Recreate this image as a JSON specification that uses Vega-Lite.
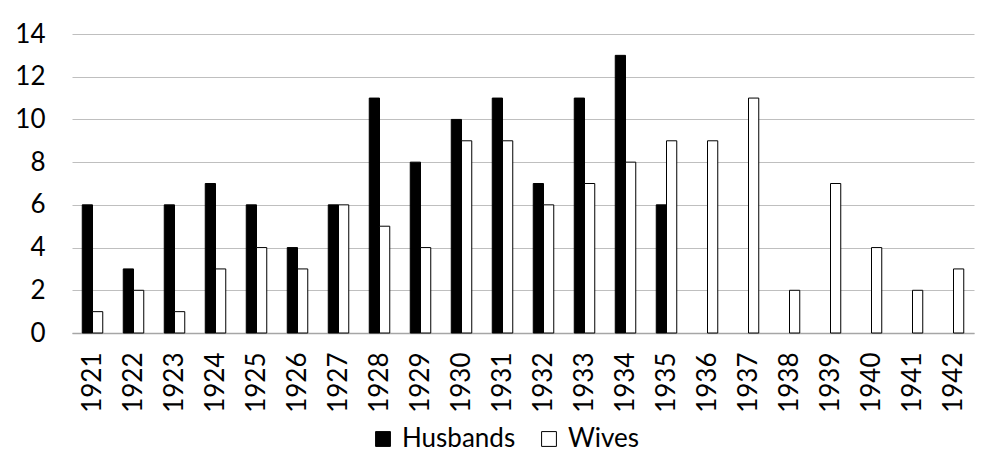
{
  "$schema": "https://vega.github.io/schema/vega-lite/v6.json",
  "width": 902,
  "height": 299,
  "autosize": {"type": "none"},
  "padding": {"left": 72, "top": 34, "right": 15, "bottom": 133},
  "background": "white",
  "config": {"view": {"stroke": null}, "font": "Lato"},
  "data": {
    "values": [
      {"year": "1921", "series": "Husbands", "count": 6},
      {"year": "1921", "series": "Wives", "count": 1},
      {"year": "1922", "series": "Husbands", "count": 3},
      {"year": "1922", "series": "Wives", "count": 2},
      {"year": "1923", "series": "Husbands", "count": 6},
      {"year": "1923", "series": "Wives", "count": 1},
      {"year": "1924", "series": "Husbands", "count": 7},
      {"year": "1924", "series": "Wives", "count": 3},
      {"year": "1925", "series": "Husbands", "count": 6},
      {"year": "1925", "series": "Wives", "count": 4},
      {"year": "1926", "series": "Husbands", "count": 4},
      {"year": "1926", "series": "Wives", "count": 3},
      {"year": "1927", "series": "Husbands", "count": 6},
      {"year": "1927", "series": "Wives", "count": 6},
      {"year": "1928", "series": "Husbands", "count": 11},
      {"year": "1928", "series": "Wives", "count": 5},
      {"year": "1929", "series": "Husbands", "count": 8},
      {"year": "1929", "series": "Wives", "count": 4},
      {"year": "1930", "series": "Husbands", "count": 10},
      {"year": "1930", "series": "Wives", "count": 9},
      {"year": "1931", "series": "Husbands", "count": 11},
      {"year": "1931", "series": "Wives", "count": 9},
      {"year": "1932", "series": "Husbands", "count": 7},
      {"year": "1932", "series": "Wives", "count": 6},
      {"year": "1933", "series": "Husbands", "count": 11},
      {"year": "1933", "series": "Wives", "count": 7},
      {"year": "1934", "series": "Husbands", "count": 13},
      {"year": "1934", "series": "Wives", "count": 8},
      {"year": "1935", "series": "Husbands", "count": 6},
      {"year": "1935", "series": "Wives", "count": 9},
      {"year": "1936", "series": "Wives", "count": 9},
      {"year": "1937", "series": "Wives", "count": 11},
      {"year": "1938", "series": "Wives", "count": 2},
      {"year": "1939", "series": "Wives", "count": 7},
      {"year": "1940", "series": "Wives", "count": 4},
      {"year": "1941", "series": "Wives", "count": 2},
      {"year": "1942", "series": "Wives", "count": 3}
    ]
  },
  "mark": {"type": "bar", "stroke": "black", "strokeWidth": 1},
  "encoding": {
    "x": {
      "field": "year",
      "type": "ordinal",
      "scale": {"paddingInner": 0.5, "paddingOuter": 0.25},
      "axis": {
        "title": null,
        "labelAngle": -90,
        "labelFontSize": 26,
        "labelPadding": 19,
        "labelColor": "black",
        "ticks": false,
        "domainColor": "#a6a6a6",
        "domainWidth": 1.5
      }
    },
    "xOffset": {"field": "series", "scale": {"domain": ["Husbands", "Wives"]}},
    "y": {
      "field": "count",
      "type": "quantitative",
      "scale": {"domain": [0, 14]},
      "axis": {
        "title": null,
        "values": [0, 2, 4, 6, 8, 10, 12, 14],
        "grid": true,
        "gridColor": "#bfbfbf",
        "domain": false,
        "ticks": false,
        "labelFontSize": 26,
        "labelPadding": 27,
        "labelColor": "black"
      }
    },
    "fill": {
      "field": "series",
      "type": "nominal",
      "scale": {"domain": ["Husbands", "Wives"], "range": ["black", "white"]},
      "legend": {
        "title": null,
        "orient": "none",
        "legendX": 298,
        "legendY": 392,
        "direction": "horizontal",
        "symbolType": "square",
        "symbolSize": 220,
        "symbolStrokeColor": "black",
        "symbolStrokeWidth": 1,
        "labelFontSize": 26,
        "labelColor": "black",
        "labelOffset": 6,
        "columnPadding": 20
      }
    }
  }
}
